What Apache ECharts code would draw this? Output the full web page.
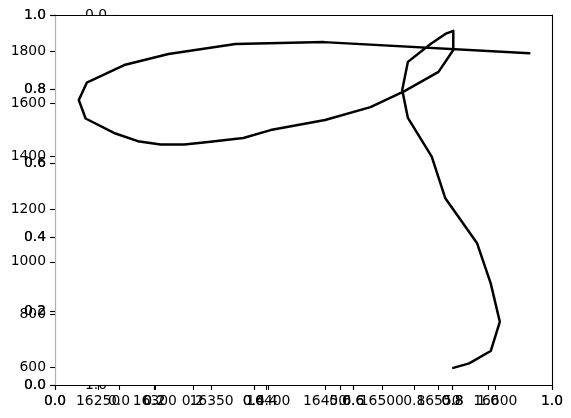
<!DOCTYPE html>
<html>
<head>
<meta charset="utf-8">
<script src="https://cdn.jsdelivr.net/npm/echarts@6/dist/echarts.min.js"></script>
<style>html,body{margin:0;padding:0;background:#fff}#c{width:571px;height:418px}</style>
</head>
<body>
<div id="c"></div>
<script>
// Path of the traced line (data coordinates), in drawing order
const pathX = [16563, 16577, 16596, 16604, 16596, 16584, 16556, 16544, 16523, 16518, 16523, 16543, 16556, 16563, 16563, 16550, 16520, 16490, 16450, 16402, 16378, 16345, 16326, 16305, 16285, 16264, 16239, 16233, 16240, 16273, 16312, 16371, 16449, 16630];
const pathY = [597, 614, 661, 772, 918, 1070, 1241, 1399, 1546, 1652, 1759, 1827, 1865, 1877, 1804, 1721, 1648, 1587, 1538, 1500, 1470, 1454, 1445, 1445, 1458, 1489, 1544, 1614, 1680, 1747, 1789, 1827, 1834, 1792];
// Tick labels
const dataXTicks = [16250, 16300, 16350, 16400, 16450, 16500, 16550, 16600];
const dataYTicks = [600, 800, 1000, 1200, 1400, 1600, 1800];
const unitRange = [0, 1];
const unitStep = 0.2;

const FONT = {color: '#000', fontFamily: 'DejaVu Sans', fontSize: 13.9};
const TICK = {show: true, inside: false, length: 4.9, lineStyle: {color: '#000', width: 1.1}};

function unitX(gridIndex, z, opts) {
  return Object.assign({
    type: 'value', gridIndex, z, position: 'bottom',
    min: unitRange[0], max: unitRange[1], interval: unitStep,
    splitLine: {show: false},
    axisLine: {show: true, onZero: false, lineStyle: {color: '#000', width: 1.1}},
    axisTick: TICK,
    axisLabel: Object.assign({margin: 9, showMinLabel: true, showMaxLabel: true, formatter: v => v.toFixed(1)}, FONT)
  }, opts || {});
}
function unitY(gridIndex, z, opts) {
  return Object.assign({
    type: 'value', gridIndex, z, position: 'left',
    min: unitRange[0], max: unitRange[1], interval: unitStep,
    splitLine: {show: false},
    axisLine: {show: true, onZero: false, lineStyle: {color: '#b0b0b0', width: 1.1}},
    axisTick: TICK,
    axisLabel: Object.assign({margin: 9, showMinLabel: true, showMaxLabel: true, formatter: v => v.toFixed(1)}, FONT)
  }, opts || {});
}

const chart = echarts.init(document.getElementById('c'), null, {renderer: 'canvas'});
chart.setOption({
  animation: false,
  backgroundColor: '#fff',
  grid: [
    {left: 55, right: 19, top: 15, bottom: 33, show: true, backgroundColor: '#fff', borderWidth: 0, z: 2},
    {left: 119, right: 83, top: 15, bottom: 33, show: false, z: 0}
  ],
  xAxis: [
    unitX(0, 3),
    unitX(0, 3),
    {
      type: 'value', gridIndex: 0, z: 3, position: 'bottom', min: 16212, max: 16650,
      splitLine: {show: false},
      axisLine: {show: true, onZero: false, lineStyle: {color: '#000', width: 1.1}},
      axisTick: Object.assign({customValues: dataXTicks}, TICK),
      axisLabel: Object.assign({margin: 9, customValues: dataXTicks, formatter: v => String(v)}, FONT)
    },
    {
      type: 'value', gridIndex: 0, z: 3, position: 'top', min: 0, max: 1,
      splitLine: {show: false}, axisTick: {show: false}, axisLabel: {show: false},
      axisLine: {show: true, onZero: false, lineStyle: {color: '#000', width: 1.1}}
    },
    unitX(1, 0)
  ],
  yAxis: [
    unitY(0, 3),
    unitY(0, 3),
    {
      type: 'value', gridIndex: 0, z: 3, position: 'left', min: 532, max: 1937,
      splitLine: {show: false},
      axisLine: {show: false},
      axisTick: Object.assign({customValues: dataYTicks}, TICK),
      axisLabel: Object.assign({margin: 9, customValues: dataYTicks, formatter: v => String(v)}, FONT)
    },
    {
      type: 'value', gridIndex: 0, z: 3, position: 'right', min: 0, max: 1,
      splitLine: {show: false}, axisTick: {show: false}, axisLabel: {show: false},
      axisLine: {show: true, onZero: false, lineStyle: {color: '#000', width: 1.1}}
    },
    unitY(1, 0, {
      inverse: true,
      axisLine: {show: false},
      axisLabel: Object.assign({margin: 12, padding: [4, 0, 0, 0], showMinLabel: true, showMaxLabel: true, formatter: v => v.toFixed(1)}, FONT)
    })
  ],
  series: [{
    type: 'line',
    xAxisIndex: 2, yAxisIndex: 2,
    z: 5,
    symbol: 'none',
    clip: false,
    lineStyle: {color: '#000', width: 2.5, join: 'round', cap: 'round'},
    data: pathX.map((x, i) => [x, pathY[i]])
  }]
});
</script>
</body>
</html>
